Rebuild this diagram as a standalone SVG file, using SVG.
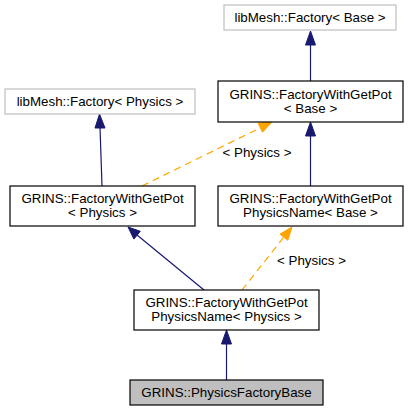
<svg xmlns="http://www.w3.org/2000/svg" width="408" height="412" viewBox="0 0 408 412">
<style>
text{font-family:"Liberation Sans",Arial,Helvetica,sans-serif;font-size:13.33px;fill:#000;text-anchor:middle}
.n rect{fill:#fff;stroke:#000;stroke-width:1.2}
.n.ext rect{stroke:#bfbfbf}
.n.cur rect{fill:#bfbfbf}
.e line{fill:none;stroke:#191970;stroke-width:1.2}
.e polygon{fill:#191970;stroke:#191970}
.t line{fill:none;stroke:#ffa500;stroke-width:1.2;stroke-dasharray:7,5}
.t polygon{fill:#ffa500;stroke:#ffa500}
</style>
<rect width="408" height="412" fill="#fff"/>
<g id="connectors">
  <g class="e"><line x1="310.5" y1="81" x2="310.5" y2="44"/><polygon points="310.5,31 305.5,45 315.5,45"/></g>
  <g class="e"><line x1="102" y1="186" x2="100" y2="127"/><polygon points="99.5,114 95,128 105,128"/></g>
  <g class="t"><line x1="142" y1="186" x2="260" y2="128"/><polygon points="272,122 262.5,132.2 258.1,123.2"/></g>
  <text x="257" y="157">&lt; Physics &gt;</text>
  <g class="e"><line x1="204" y1="290" x2="137" y2="235"/><polygon points="128,227 140.3,231.3 133.9,239.1"/></g>
  <g class="t"><line x1="242" y1="290" x2="284" y2="237"/><polygon points="292,227 287.8,240.3 280,234.1"/></g>
  <text x="311.5" y="265">&lt; Physics &gt;</text>
  <g class="e"><line x1="310.5" y1="186" x2="310.5" y2="135"/><polygon points="310.5,122 305.5,136 315.5,136"/></g>
  <g class="e"><line x1="226.5" y1="380" x2="226.5" y2="343"/><polygon points="226.5,330 221.5,344 231.5,344"/></g>
</g>
<g id="libMeshFactoryBase" class="n ext"><rect x="224" y="5" width="172" height="25"/><text x="310" y="22">libMesh::Factory&lt; Base &gt;</text></g>
<g id="FactoryWithGetPotBase" class="n"><rect x="218" y="81" width="185" height="41"/><text x="310.5" y="99">GRINS::FactoryWithGetPot</text><text x="310.5" y="113">&lt; Base &gt;</text></g>
<g id="libMeshFactoryPhysics" class="n ext"><rect x="5" y="89" width="190" height="25"/><text x="100" y="106">libMesh::Factory&lt; Physics &gt;</text></g>
<g id="FactoryWithGetPotPhysics" class="n"><rect x="10" y="186" width="185" height="40"/><text x="102.5" y="203">GRINS::FactoryWithGetPot</text><text x="102.5" y="217">&lt; Physics &gt;</text></g>
<g id="FactoryWithGetPotPhysicsNameBase" class="n"><rect x="218" y="186" width="185" height="40"/><text x="310.5" y="203">GRINS::FactoryWithGetPot</text><text x="310.5" y="217">PhysicsName&lt; Base &gt;</text></g>
<g id="FactoryWithGetPotPhysicsNamePhysics" class="n"><rect x="134" y="290" width="185" height="40"/><text x="226.5" y="307">GRINS::FactoryWithGetPot</text><text x="226.5" y="321">PhysicsName&lt; Physics &gt;</text></g>
<g id="PhysicsFactoryBase" class="n cur"><rect x="130" y="380" width="193" height="25"/><text x="226.5" y="397">GRINS::PhysicsFactoryBase</text></g>
</svg>
